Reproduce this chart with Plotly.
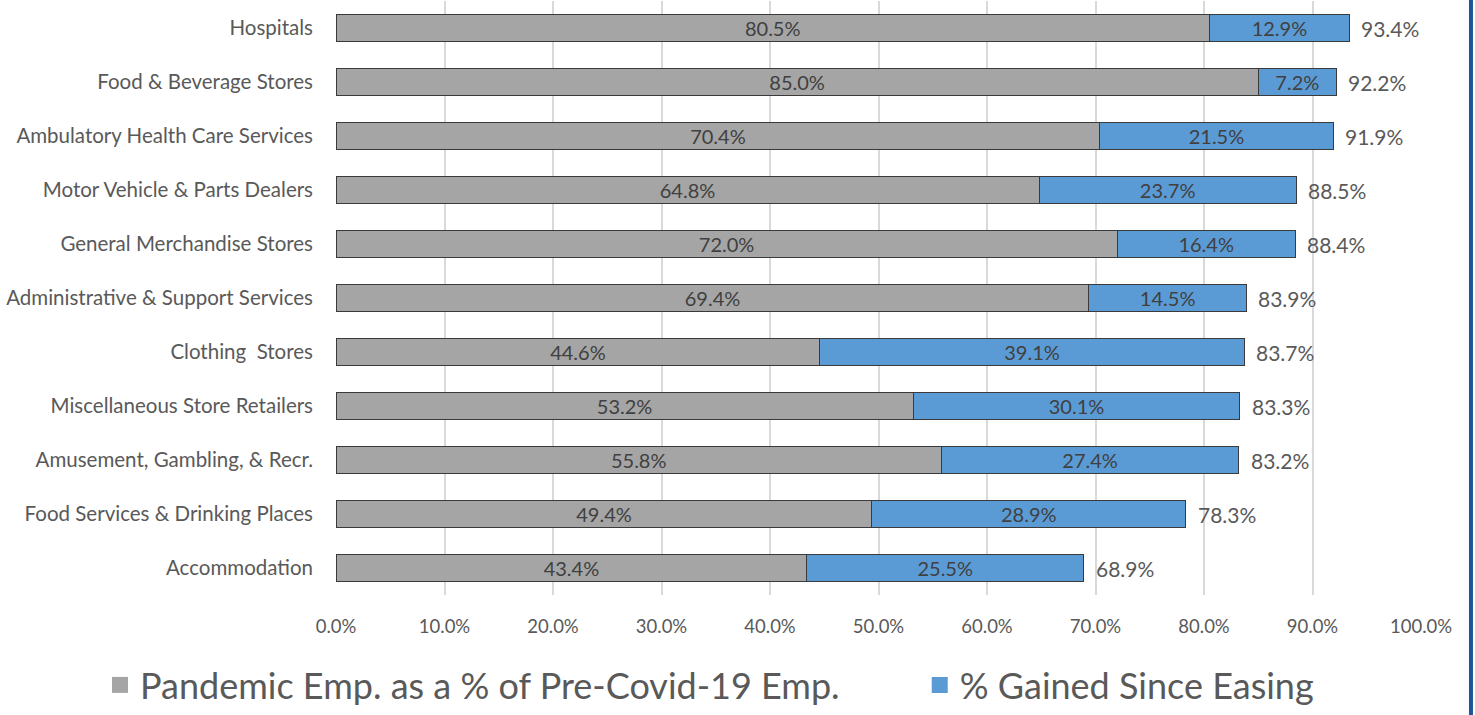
import plotly.graph_objects as go

categories = [
    "Hospitals",
    "Food & Beverage Stores",
    "Ambulatory Health Care Services",
    "Motor Vehicle & Parts Dealers",
    "General Merchandise Stores",
    "Administrative & Support Services",
    "Clothing  Stores",
    "Miscellaneous Store Retailers",
    "Amusement, Gambling, & Recr.",
    "Food Services & Drinking Places",
    "Accommodation",
]
pandemic_emp = [80.5, 85.0, 70.4, 64.8, 72.0, 69.4, 44.6, 53.2, 55.8, 49.4, 43.4]
gained = [12.9, 7.2, 21.5, 23.7, 16.4, 14.5, 39.1, 30.1, 27.4, 28.9, 25.5]
totals = [93.4, 92.2, 91.9, 88.5, 88.4, 83.9, 83.7, 83.3, 83.2, 78.3, 68.9]
series_names = ["Pandemic Emp. as a % of Pre-Covid-19 Emp.", "% Gained Since Easing"]
series_colors = ["#a5a5a5", "#5b9bd5"]
tick_vals = [0, 10, 20, 30, 40, 50, 60, 70, 80, 90, 100]

FONT = "Lato, Carlito, Calibri, sans-serif"
TXT = "#595959"

fig = go.Figure()
for vals, color in zip([pandemic_emp, gained], series_colors):
    fig.add_trace(go.Bar(
        y=categories, x=vals, orientation="h", showlegend=False,
        marker=dict(color=color, line=dict(color="#3a3a3a", width=1)),
        texttemplate="%{x:.1f}%", textposition="inside", insidetextanchor="middle",
        constraintext="none",
        textfont=dict(size=20, color="#404040", family=FONT),
        hoverinfo="x+y",
    ))

# legend entries (square swatches like the original)
for i, (name, color) in enumerate(zip(series_names, series_colors)):
    fig.add_trace(go.Scatter(
        x=[None], y=[None], mode="markers", name=name,
        marker=dict(symbol="square", size=24, color=color),
        legend="legend" if i == 0 else "legend2",
    ))

for c, t in zip(categories, totals):
    fig.add_annotation(x=t, y=c, text=f"{t:.1f}%", showarrow=False,
                       xanchor="left", xshift=10,
                       font=dict(size=21, color=TXT, family=FONT))

fig.add_shape(type="rect", xref="paper", yref="paper",
              x0=1.0442, x1=1.0479, y0=-0.21, y1=1.01,
              fillcolor="#1f5597", line=dict(width=0), layer="above")

leg_common = dict(orientation="h", yanchor="bottom", y=-0.2, xanchor="left",
                  font=dict(size=36, color=TXT, family=FONT), bgcolor="rgba(0,0,0,0)")

fig.update_layout(
    barmode="stack",
    bargap=0.5,
    width=1475, height=715,
    margin=dict(l=336, r=54, t=1, b=119),
    paper_bgcolor="white", plot_bgcolor="white",
    font=dict(family=FONT, color=TXT, size=18),
    showlegend=True,
    legend=dict(x=-0.2175, **leg_common),
    legend2=dict(x=0.538, **leg_common),
    xaxis=dict(range=[0, 100], tickvals=tick_vals, ticktext=[f"{v:.1f}%" for v in tick_vals],
               showgrid=True, gridcolor="#d9d9d9", gridwidth=2, zeroline=False,
               showline=False, tickfont=dict(size=18.5, color=TXT), ticks="",
               ticklabelstandoff=18),
    yaxis=dict(autorange="reversed", showgrid=False, showline=False, ticks="",
               tickfont=dict(size=20.5, color=TXT), ticklabelstandoff=22),
)

fig.write_html("out.html", config={"displayModeBar": False},
               post_script="document.body.style.margin='0';document.body.style.overflow='hidden';")
